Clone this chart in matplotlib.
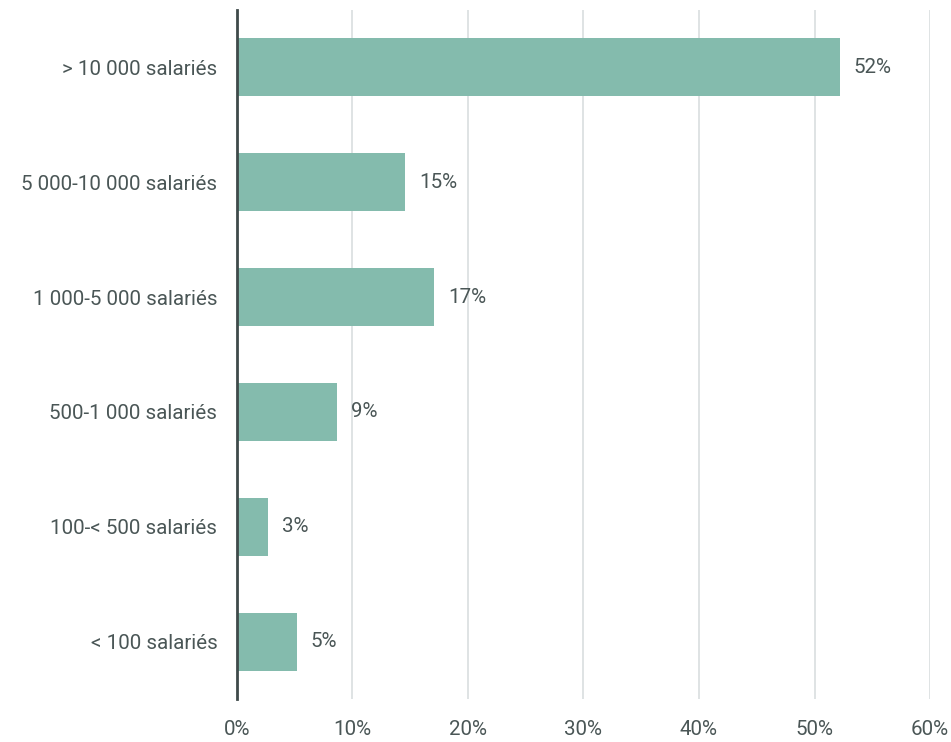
import matplotlib.pyplot as plt
from matplotlib.ticker import FuncFormatter

# Donnees (en %)
categories = ["> 10 000 salariés", "5 000-10 000 salariés", "1 000-5 000 salariés",
              "500-1 000 salariés", "100-< 500 salariés", "< 100 salariés"]
valeurs = [52.2, 14.6, 17.1, 8.7, 2.7, 5.2]
etiquettes = ["52%", "15%", "17%", "9%", "3%", "5%"]

texte = "#4a5656"
plt.rcParams['font.family'] = ['Roboto', 'DejaVu Sans']

fig = plt.figure(figsize=(9.51, 7.42), dpi=100)
ax = fig.add_axes([0.249, 0.0575, 0.729, 0.9295])

pos = list(range(len(categories)))
ax.barh(pos, valeurs, height=0.5, color="#84bbad", zorder=2)

for y, v, e in zip(pos, valeurs, etiquettes):
    ax.text(v + 1.2, y, e, va="center", ha="left", fontsize=14.8, color=texte)

ax.set_yticks(pos)
ax.set_yticklabels(categories)
ax.set_ylim(5.5, -0.5)
ax.set_xlim(0, 60)
ax.set_xticks(range(0, 61, 10))
ax.xaxis.set_major_formatter(FuncFormatter(lambda x, p: f"{int(x)}%"))

ax.grid(axis="x", color="#d6dbdd", linewidth=1.1, zorder=0)
for s in ["top", "right", "bottom"]:
    ax.spines[s].set_visible(False)
ax.spines["left"].set_color("#3f4a4a")
ax.spines["left"].set_linewidth(2)
ax.spines["left"].set_zorder(3)

ax.tick_params(axis="both", length=0, labelsize=14.8, colors=texte)
ax.tick_params(axis="y", pad=14)
ax.tick_params(axis="x", pad=15)

fig.savefig("out.png", dpi=100)
